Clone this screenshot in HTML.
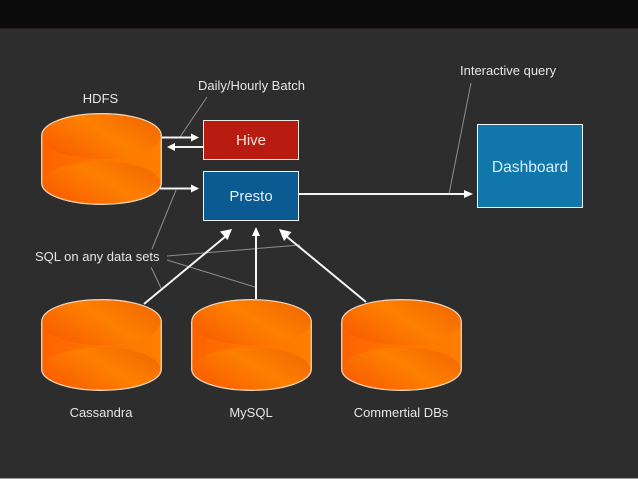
<!DOCTYPE html>
<html>
<head>
<meta charset="utf-8">
<style>
html,body{margin:0;padding:0;background:#2d2d2d;}
svg{display:block;}
text{font-family:"Liberation Sans",sans-serif;fill:#e6e6e6;font-size:13px;}
</style>
</head>
<body>
<svg width="638" height="479" viewBox="0 0 638 479" xmlns="http://www.w3.org/2000/svg">
<defs>
<linearGradient id="o" x1="0" y1="0.8" x2="1" y2="0.2">
<stop offset="0" stop-color="#f85c00"/>
<stop offset="0.55" stop-color="#fe8000"/>
<stop offset="1" stop-color="#f26800"/>
</linearGradient>
<linearGradient id="s" x1="0" y1="0" x2="1" y2="0">
<stop offset="0" stop-color="#ff6200"/>
<stop offset="0.45" stop-color="#ff7400"/>
<stop offset="1" stop-color="#ff7e00"/>
</linearGradient>
<g id="cyl">
<path d="M0.7,23 C0.7,10 27,0.7 60.5,0.7 C94,0.7 120.3,10 120.3,23 L120.3,70 C120.3,82 94,91.3 60.5,91.3 C27,91.3 0.7,82 0.7,70 Z" fill="url(#s)" stroke="#f2d4b8" stroke-width="1.3"/>
<path d="M1.4,23 C1.4,10.5 27,1.4 60.5,1.4 C94,1.4 119.6,10.5 119.6,23 C119.6,36 94,46 60.5,46 C27,46 1.4,36 1.4,23 Z" fill="url(#o)"/>
<path d="M2,70 C2,58 27,48.5 60.5,48.5 C94,48.5 119,58 119,70 C119,81 94,90.6 60.5,90.6 C27,90.6 2,81 2,70 Z" fill="url(#o)"/>
</g>
</defs>
<rect width="638" height="479" fill="#2d2d2d"/>
<rect width="638" height="28" fill="#0b0b0b"/>
<rect y="28" width="638" height="1" fill="#2a1b1a"/>
<rect y="478" width="638" height="1" fill="#9a9a9a"/>

<g stroke="#8e8e8e" stroke-width="1" fill="none">
<line x1="207" y1="97" x2="180" y2="137"/>
<line x1="176" y1="190" x2="152" y2="249"/>
<line x1="151" y1="267" x2="161" y2="288"/>
<line x1="167" y1="256" x2="300" y2="245"/>
<line x1="167" y1="260" x2="255" y2="287"/>
<line x1="471" y1="83" x2="449" y2="194"/>
</g>

<use href="#cyl" x="41" y="113"/>
<use href="#cyl" x="41" y="299"/>
<use href="#cyl" x="191" y="299"/>
<use href="#cyl" x="341" y="299"/>

<rect x="203.5" y="120.5" width="95" height="39" fill="#b81c10" stroke="#f0e6e0" stroke-width="1"/>
<rect x="203.5" y="171.5" width="95" height="49" fill="#0b5a92" stroke="#f0f4f8" stroke-width="1"/>
<rect x="477.5" y="124.5" width="105" height="83" fill="#1177ab" stroke="#f0f6fa" stroke-width="1"/>

<g stroke="#f4f4f4" stroke-width="2" fill="none">
<line x1="162" y1="137.5" x2="194" y2="137.5"/>
<line x1="204" y1="147" x2="175" y2="147"/>
<line x1="160" y1="188.5" x2="194" y2="188.5"/>
<line x1="299" y1="194" x2="464" y2="194"/>
<line x1="144" y1="304" x2="226" y2="236"/>
<line x1="256" y1="299" x2="256" y2="234"/>
<line x1="366" y1="302" x2="286" y2="236"/>
</g>
<g fill="#ffffff">
<polygon points="199,137.5 191,133.5 191,141.5"/>
<polygon points="167,147 175,143 175,151"/>
<polygon points="199,188.5 191,184.5 191,192.5"/>
<polygon points="473,194 464,190 464,198"/>
<polygon points="232,229 227.5,240 220,231.5"/>
<polygon points="256,227 260,236 252,236"/>
<polygon points="279,229 291.5,232 284,241"/>
</g>

<text x="100.5" y="103" text-anchor="middle">HDFS</text>
<text x="198" y="90">Daily/Hourly Batch</text>
<text x="460" y="75">Interactive query</text>
<text x="35" y="261">SQL on any data sets</text>
<text x="101" y="417" text-anchor="middle">Cassandra</text>
<text x="251" y="417" text-anchor="middle">MySQL</text>
<text x="401" y="417" text-anchor="middle">Commertial DBs</text>
<text x="251" y="145" text-anchor="middle" style="font-size:15px;fill:#f0e2dc">Hive</text>
<text x="251" y="201" text-anchor="middle" style="font-size:15px;fill:#e6f0f8">Presto</text>
<text x="530" y="172" text-anchor="middle" style="font-size:15.6px;fill:#d8eef8">Dashboard</text>
</svg>
</body>
</html>
